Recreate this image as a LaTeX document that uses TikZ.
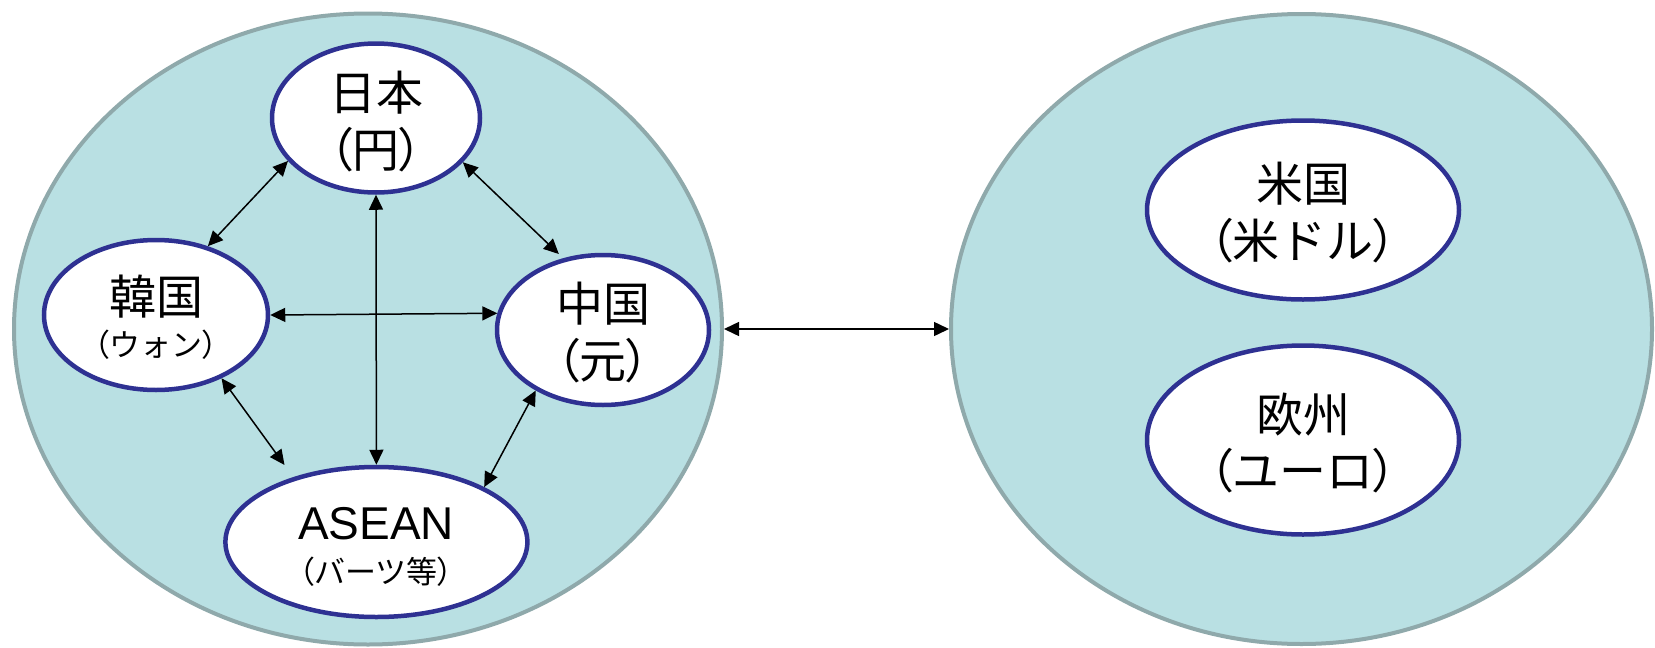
\documentclass[tikz,border=0pt]{standalone}
\usepackage{fontspec}
\setmainfont{Liberation Sans}
\newfontfamily\jp{Noto Sans CJK JP}
% proportional-width brackets
\newfontfamily\jpnarrow[RawFeature=+palt]{Noto Sans CJK JP}
\newcommand\openp{{\jpnarrow （}}
\newcommand\closep{{\jpnarrow ）}}
\usetikzlibrary{shapes.geometric,arrows.meta}

\definecolor{poolfill}{RGB}{185,224,227}
\definecolor{poolline}{RGB}{143,169,171}
\definecolor{rimnavy}{RGB}{46,49,146}

\begin{document}
\begin{tikzpicture}[x=1pt,y=-1pt,
  pool/.style={ellipse, draw=poolline, line width=4pt, fill=poolfill, inner sep=0pt},
  currency/.style={ellipse, draw=rimnavy, line width=4.5pt, fill=white, inner sep=0pt},
  bigtxt/.style={font=\jp\fontsize{47}{47}\selectfont, inner sep=0pt},
  smalltxt/.style={font=\jp\fontsize{31}{31}\selectfont, inner sep=0pt},
  latintxt/.style={font=\fontsize{46}{46}\selectfont, inner sep=0pt},
  link/.style={{Triangle[length=15pt,width=14pt]}-{Triangle[length=15pt,width=14pt]}, line width=1.5pt, black},
]
\useasboundingbox (0,0) rectangle (1655,648);

% two currency zones
\node[pool, minimum width=708pt, minimum height=631pt] (asia) at (368,329) {};
\node[pool, minimum width=701pt, minimum height=630pt] (west) at (1301.5,329) {};

% Asian currencies
\node[currency, minimum width=208pt, minimum height=149pt] (jp) at (376,118) {};
\node[currency, minimum width=224pt, minimum height=150pt] (kr) at (156,315) {};
\node[currency, minimum width=212pt, minimum height=150pt] (cn) at (603,330) {};
\node[currency, minimum width=302pt, minimum height=150pt] (as) at (376.4,542) {};

% dollar and euro
\node[currency, minimum width=312pt, minimum height=179pt] (us) at (1303,210) {};
\node[currency, minimum width=312pt, minimum height=189pt] (eu) at (1303,440) {};

% labels
\node[bigtxt] (jpname) at (376,92.6) {日本};
\node[bigtxt] (jpcur) at (376,150) {\openp 円\closep};
\node[bigtxt] (krname) at (156,297) {韓国};
\node[smalltxt] (krcur) at (156,345) {\openp ウォン\closep};
\node[bigtxt] (cnname) at (603,304) {中国};
\node[bigtxt] (cncur) at (603,361) {\openp 元\closep};
\node[latintxt] (asname) at (376,524) {ASEAN};
\node[smalltxt] (ascur) at (376,572) {\openp バーツ等\closep};
\node[bigtxt] (usname) at (1303,184) {米国};
\node[bigtxt] (uscur) at (1303,241) {\openp 米ドル\closep};
\node[bigtxt] (euname) at (1303,415) {欧州};
\node[bigtxt] (eucur) at (1303,471) {\openp ユーロ\closep};

% exchange links
\draw[link] (jp.206.6) -- (kr.53.2);
\draw[link, shorten >=6pt] (jp.333.2) -- (cn.119.8);
\draw[link] (jp.south) -- (as.north);
\draw[link] (kr.east) -- (cn.171.9);
\draw[link, shorten >=15pt] (kr.316.3) -- (as.142.5);
\draw[link] (cn.222) -- (as.27.2);
\draw[link] (asia.east) -- (west.west);
\end{tikzpicture}
\end{document}
